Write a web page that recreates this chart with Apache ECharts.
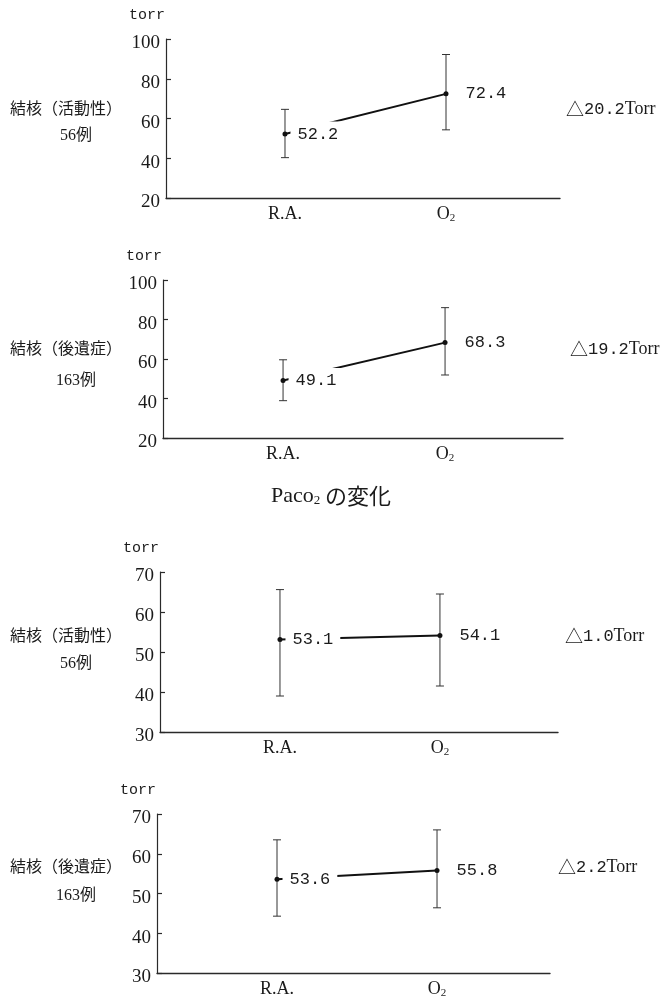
<!DOCTYPE html>
<html>
<head>
<meta charset="utf-8">
<script src="https://cdn.jsdelivr.net/npm/echarts@6/dist/echarts.min.js"></script>
<style>
html, body { margin: 0; padding: 0; background: #fff; }
#main { width: 663px; height: 999px; }
</style>
</head>
<body>
<div id="main"></div>
<script>
// 横軸の区分
var categories = ['R.A.', 'O2'];

// PaO2 結核(活動性) 56例
var meanA = [52.2, 72.4];
var lowA = [40.3, 54.3];
var highA = [64.6, 92.2];
// PaO2 結核(後遺症) 163例
var meanB = [49.1, 68.3];
var lowB = [38.9, 51.9];
var highB = [59.6, 86.0];
// PaCO2 結核(活動性) 56例
var meanC = [53.1, 54.1];
var lowC = [39.0, 41.5];
var highC = [65.6, 64.5];
// PaCO2 結核(後遺症) 163例
var meanD = [53.6, 55.8];
var lowD = [44.3, 46.4];
var highD = [63.5, 66.0];

var groupNames = ['結核（活動性）', '結核（後遺症）', '結核（活動性）', '結核（後遺症）'];
var caseCounts = ['56例', '163例', '56例', '163例'];
var deltas = ['20.2', '19.2', '1.0', '2.2'];
var ticksPaO2 = [20, 40, 60, 80, 100];
var ticksPaCO2 = [30, 40, 50, 60, 70];

var fontSerif = "'Liberation Serif', 'Noto Sans CJK JP', serif";
var fontMono = "'Liberation Mono', monospace";
var fontCjk = "'Liberation Serif', 'Noto Sans CJK JP', sans-serif";
var ink = '#1b1b1b';

// 各パネルの配置
var panels = [
	{ mean: meanA, low: lowA, high: highA, ticks: ticksPaO2, grid: { left: 166, top: 39, width: 394, height: 159 }, xMin: -0.739, xMax: 1.708, labelY: 110, countY: 136, deltaX: 566 },
	{ mean: meanB, low: lowB, high: highB, ticks: ticksPaO2, grid: { left: 163, top: 280, width: 400, height: 158 }, xMin: -0.741, xMax: 1.728, labelY: 350, countY: 381, deltaX: 570 },
	{ mean: meanC, low: lowC, high: highC, ticks: ticksPaCO2, grid: { left: 160, top: 572, width: 398, height: 160 }, xMin: -0.75, xMax: 1.738, labelY: 637, countY: 664, deltaX: 565 },
	{ mean: meanD, low: lowD, high: highD, ticks: ticksPaCO2, grid: { left: 157, top: 814, width: 393, height: 160 }, xMin: -0.75, xMax: 1.706, labelY: 868, countY: 896, deltaX: 558 }
];

var chart = echarts.init(document.getElementById('main'), null, { renderer: 'canvas' });

var grids = [], xAxes = [], yAxes = [], series = [], graphics = [];

panels.forEach(function(p, i){
	var ticks = p.ticks;
	var step = ticks[1] - ticks[0];
	grids.push(p.grid);

	xAxes.push({
		type: 'value',
		gridIndex: i,
		min: p.xMin,
		max: p.xMax,
		splitLine: { show: false },
		axisTick: { show: false },
		axisLine: { show: true, onZero: false, lineStyle: { color: '#2a2a2a', width: 1.4 } },
		axisLabel: {
			customValues: [0, 1],
			margin: 7,
			color: ink,
			fontFamily: fontSerif,
			fontSize: 18,
			formatter: function(v){
				return v === 0 ? '{c|' + categories[0] + '}' : '{c|O}{s|2}';
			},
			rich: {
				c: { fontFamily: fontSerif, fontSize: 18, color: ink },
				s: { fontFamily: fontSerif, fontSize: 11, color: ink, padding: [8, 0, 0, 0] }
			}
		}
	});

	yAxes.push({
		type: 'value',
		gridIndex: i,
		min: ticks[0],
		max: ticks[ticks.length - 1],
		interval: step,
		splitLine: { show: false },
		axisLine: { show: true, onZero: false, lineStyle: { color: '#2a2a2a', width: 1.2 } },
		axisTick: { show: true, inside: true, length: 5, lineStyle: { color: '#2a2a2a', width: 1.2 } },
		axisLabel: {
			margin: 6,
			color: ink,
			fontFamily: fontSerif,
			fontSize: 19,
			formatter: '{l|{value}}',
			rich: { l: { fontFamily: fontSerif, fontSize: 19, color: ink, padding: [9, 0, 0, 0] } }
		}
	});

	// エラーバー
	series.push({
		type: 'custom',
		xAxisIndex: i,
		yAxisIndex: i,
		data: [[0, p.low[0], p.high[0]], [1, p.low[1], p.high[1]]],
		encode: { x: 0, y: [1, 2] },
		silent: true,
		renderItem: function(params, api){
			var top = api.coord([api.value(0), api.value(2)]);
			var bot = api.coord([api.value(0), api.value(1)]);
			var w = 4;
			var st = { stroke: '#333', lineWidth: 1 };
			return {
				type: 'group',
				children: [
					{ type: 'line', shape: { x1: top[0], y1: top[1], x2: bot[0], y2: bot[1] }, style: st },
					{ type: 'line', shape: { x1: top[0] - w, y1: top[1], x2: top[0] + w, y2: top[1] }, style: st },
					{ type: 'line', shape: { x1: bot[0] - w, y1: bot[1], x2: bot[0] + w, y2: bot[1] }, style: st }
				]
			};
		}
	});

	// 平均値の線
	series.push({
		type: 'line',
		xAxisIndex: i,
		yAxisIndex: i,
		symbol: 'circle',
		symbolSize: 5,
		itemStyle: { color: '#111' },
		lineStyle: { color: '#111', width: 2 },
		z: 3,
		data: [
			{ value: [0, p.mean[0]], label: { distance: 3, backgroundColor: '#fff', padding: [4, 7, 4, 7] } },
			{ value: [1, p.mean[1]], label: { distance: 17 } }
		],
		label: {
			show: true,
			position: 'right',
			color: ink,
			fontFamily: fontMono,
			fontSize: 17,
			formatter: function(prm){ return prm.value[1].toFixed(1); }
		}
	});

	// torr
	graphics.push({
		type: 'text', x: p.grid.left - 37, y: p.grid.top - 24,
		style: { text: 'torr', fontFamily: fontMono, fontSize: 15, fill: ink, textVerticalAlign: 'middle' }
	});
	// 群名
	graphics.push({
		type: 'text', x: 66, y: p.labelY,
		style: { text: groupNames[i], fontFamily: fontCjk, fontSize: 16, fill: ink, textAlign: 'center', textVerticalAlign: 'middle' }
	});
	graphics.push({
		type: 'text', x: 76, y: p.countY,
		style: { text: caseCounts[i], fontFamily: fontCjk, fontSize: 16, fill: ink, textAlign: 'center', textVerticalAlign: 'middle' }
	});
	// 差
	graphics.push({
		type: 'text', x: p.deltaX, y: p.labelY - 1,
		style: {
			text: '{t|△}{n|' + deltas[i] + '}{u|Torr}',
			textVerticalAlign: 'middle',
			rich: {
				t: { fontFamily: "'Noto Sans CJK JP'", fontSize: 18, fill: ink },
				n: { fontFamily: fontMono, fontSize: 17, fill: ink },
				u: { fontFamily: fontSerif, fontSize: 18, fill: ink }
			}
		}
	});
});

// 中央見出し
graphics.push({
	type: 'text', x: 331, y: 496,
	style: {
		text: '{p|Paco}{s|2}{j| の変化}',
		textAlign: 'center',
		textVerticalAlign: 'middle',
		rich: {
			p: { fontFamily: fontSerif, fontSize: 22, fill: ink },
			s: { fontFamily: fontSerif, fontSize: 13, fill: ink, padding: [9, 0, 0, 0] },
			j: { fontFamily: "'Noto Sans CJK JP'", fontSize: 22, fill: ink }
		}
	}
});

chart.setOption({
	animation: false,
	backgroundColor: '#fff',
	grid: grids,
	xAxis: xAxes,
	yAxis: yAxes,
	series: series,
	graphic: graphics
});
</script>
</body>
</html>
